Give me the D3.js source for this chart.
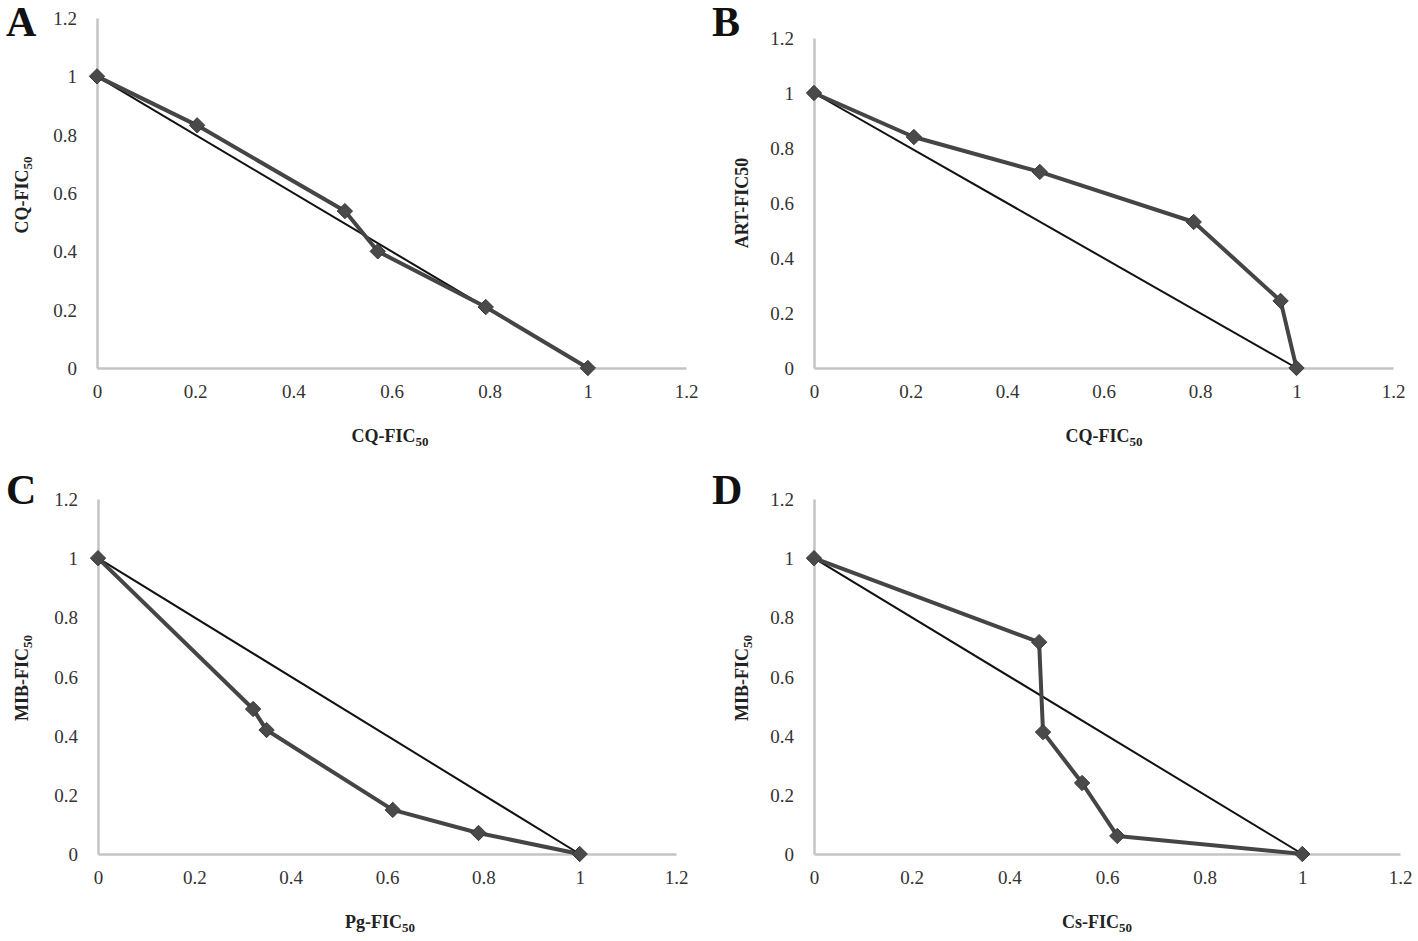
<!DOCTYPE html>
<html>
<head>
<meta charset="utf-8">
<script src="https://cdn.jsdelivr.net/npm/d3@7"></script>
<style>
  body { margin: 0; background: #fff; }
  svg { display: block; }
  .tick-label { font-family: "Liberation Serif", "Times New Roman", serif; font-size: 19px; fill: #333; }
  .axis-title { font-family: "Liberation Serif", "Times New Roman", serif; font-size: 18px; font-weight: bold; fill: #222; }
  .panel-letter { font-family: "Liberation Serif", "Times New Roman", serif; font-size: 42px; font-weight: bold; fill: #111; }
</style>
</head>
<body>
<svg id="vis" width="1418" height="941"></svg>
<script>
// tick values shared by all four panels
const ticks = [0, 0.2, 0.4, 0.6, 0.8, 1, 1.2];

// isobologram points, one list per panel
const seriesA = [[0, 1], [0.204, 0.832], [0.505, 0.538], [0.572, 0.40], [0.792, 0.209], [1, 0]];
const seriesB = [[0, 1], [0.207, 0.84], [0.468, 0.713], [0.787, 0.531], [0.967, 0.244], [1, 0]];
const seriesC = [[0, 1], [0.322, 0.49], [0.35, 0.419], [0.612, 0.149], [0.79, 0.071], [1, 0]];
const seriesD = [[0, 1], [0.461, 0.716], [0.469, 0.412], [0.549, 0.24], [0.621, 0.061], [1, 0]];

// additivity line
const additive = [[0, 1], [1, 0]];

const letters = ["A", "B", "C", "D"];
const xTitles = [["CQ-FIC", "50"], ["CQ-FIC", "50"], ["Pg-FIC", "50"], ["Cs-FIC", "50"]];
const yTitles = [["CQ-FIC", "50"], ["ART-FIC50", ""], ["MIB-FIC", "50"], ["MIB-FIC", "50"]];

// pixel frame of each panel (left, right, top, bottom of the plot area)
const frames = [
    {x0: 97, x1: 686, y0: 368, y1: 18, letter: [6, 36], xTitle: [390, 442], yTitle: [22, 195]},
    {x0: 814, x1: 1393, y0: 368, y1: 38, letter: [712, 36], xTitle: [1104, 442], yTitle: [742, 203]},
    {x0: 98, x1: 676, y0: 854, y1: 499, letter: [6, 504], xTitle: [380, 928], yTitle: [22, 678]},
    {x0: 814, x1: 1400, y0: 854, y1: 499, letter: [712, 504], xTitle: [1097, 928], yTitle: [742, 678]},
];

const allSeries = [seriesA, seriesB, seriesC, seriesD];

const svg = d3.select("#vis");

function diamond(size) {
    return d3.symbol().type(d3.symbolDiamond2 || d3.symbolDiamond).size(size)();
}

allSeries.forEach((series, i) => {
    const f = frames[i];
    const x = d3.scaleLinear().domain([0, 1.2]).range([f.x0, f.x1]);
    const y = d3.scaleLinear().domain([0, 1.2]).range([f.y0, f.y1]);
    const g = svg.append("g");

    // axes: light grey lines, no tick marks
    const xAxis = g.append("g")
        .attr("transform", `translate(0,${f.y0})`)
        .call(d3.axisBottom(x).tickValues(ticks).tickSize(0).tickPadding(17).tickFormat(d3.format("~g")));
    const yAxis = g.append("g")
        .attr("transform", `translate(${f.x0},0)`)
        .call(d3.axisLeft(y).tickValues(ticks).tickSize(0).tickPadding(20).tickFormat(d3.format("~g")));
    [xAxis, yAxis].forEach(a => {
        a.select(".domain").attr("stroke", "#c4c4c4").attr("stroke-width", 2.5);
        a.selectAll(".tick text").attr("class", "tick-label").attr("font-family", null).attr("font-size", null).attr("fill", null);
    });
    yAxis.selectAll(".tick text").attr("dy", "0.35em");

    const line = d3.line().x(d => x(d[0])).y(d => y(d[1]));

    g.append("path")
        .attr("d", line(additive))
        .attr("fill", "none")
        .attr("stroke", "#111")
        .attr("stroke-width", 2);

    g.append("path")
        .attr("d", line(series))
        .attr("fill", "none")
        .attr("stroke", "#454545")
        .attr("stroke-width", 4)
        .attr("stroke-linejoin", "round");

    g.selectAll(".pt")
        .data(series)
        .join("path")
        .attr("class", "pt")
        .attr("d", diamond(150))
        .attr("transform", d => `translate(${x(d[0])},${y(d[1])})`)
        .attr("fill", "#4a4a4a")
        .attr("stroke", "#3a3a3a")
        .attr("stroke-width", 1);

    g.append("text")
        .attr("class", "panel-letter")
        .attr("x", f.letter[0])
        .attr("y", f.letter[1])
        .text(letters[i]);

    const xt = g.append("text")
        .attr("class", "axis-title")
        .attr("x", f.xTitle[0])
        .attr("y", f.xTitle[1])
        .attr("text-anchor", "middle")
        .text(xTitles[i][0]);
    if (xTitles[i][1]) xt.append("tspan").attr("font-size", 13).attr("dy", 4).text(xTitles[i][1]);

    const yt = g.append("text")
        .attr("class", "axis-title")
        .attr("transform", `translate(${f.yTitle[0]},${f.yTitle[1]}) rotate(-90)`)
        .attr("text-anchor", "middle")
        .attr("dy", "0.35em")
        .text(yTitles[i][0]);
    if (yTitles[i][1]) yt.append("tspan").attr("font-size", 13).attr("dy", 4).text(yTitles[i][1]);
});
</script>
</body>
</html>
